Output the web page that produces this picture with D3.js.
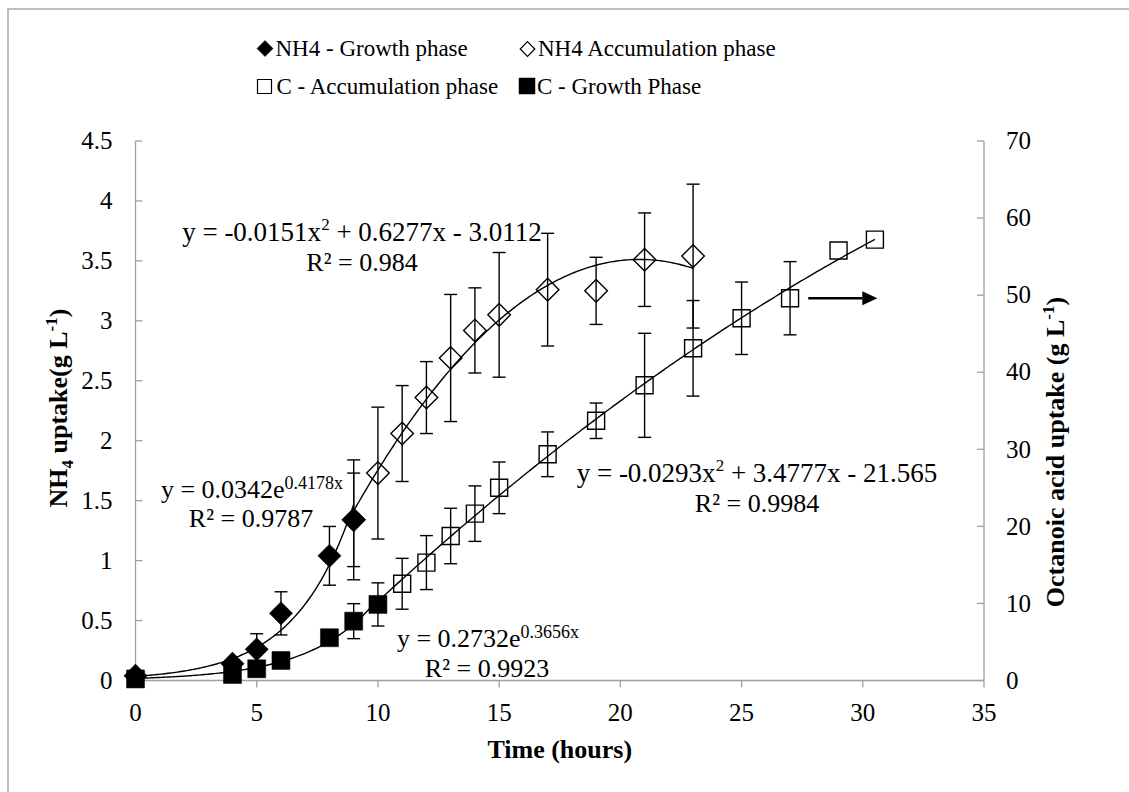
<!DOCTYPE html>
<html><head><meta charset="utf-8">
<script src="https://cdn.jsdelivr.net/npm/d3@7"></script>
<style>
html,body{margin:0;padding:0;background:#fff;}
text{font-family:"Liberation Serif","Times New Roman",serif;fill:#000;}
</style></head>
<body>
<svg id="chart" width="1129" height="792" font-family="Liberation Serif, Times New Roman, serif"></svg>
<script>
// ---------- DATA ----------
const xTicks = [0,5,10,15,20,25,30,35];
const leftTicks = [0,0.5,1,1.5,2,2.5,3,3.5,4,4.5];
const rightTicks = [0,10,20,30,40,50,60,70];

// NH4 - Growth phase (left axis)
const nh4GrowthT   = [0,4,5,6,8,9];
const nh4GrowthV   = [0.04,0.14,0.26,0.56,1.04,1.34];
const nh4GrowthErr = [0,0,0.13,0.18,0.245,0.5];

// NH4 Accumulation phase (left axis)
const nh4AccT   = [9,10,11,12,13,14,15,17,19,21,23];
const nh4AccV   = [1.34,1.73,2.06,2.36,2.69,2.92,3.05,3.26,3.25,3.51,3.54];
const nh4AccErr = [0.39,0.55,0.40,0.30,0.53,0.355,0.52,0.47,0.28,0.39,0.60];

// C - Accumulation phase (right axis)
const cAccT   = [11,12,13,14,15,17,19,21,23,25,27,29,30.5];
const cAccV   = [12.55,15.3,18.75,21.65,25.0,29.35,33.7,38.3,43.1,47.0,49.6,55.8,57.2];
const cAccErr = [3.3,3.5,3.6,3.6,3.35,2.9,2.3,6.75,6.2,4.7,4.75,0,0];

// C - Growth Phase (right axis)
const cGrowthT   = [0,4,5,6,8,9,10];
const cGrowthV   = [0.2,0.78,1.52,2.6,5.55,7.7,9.87];
const cGrowthErr = [0,0,0,0,0,2.27,2.8];

// Trendlines (from printed equations)
const nh4GrowthFit = {a:0.0342, b:0.4178, range:[0,9]};          // exp
const nh4AccFit    = {c:[-0.0151,0.6277,-3.0112], range:[9,23]};   // poly2
const cGrowthFit   = {a:0.2732, b:0.3656, range:[0,10]};           // exp
const cAccFit      = {c:[-0.0293,3.4777,-21.565], range:[10,30.5]};// poly2

// Arrow pointing to right axis (time range, right-axis value)
const arrowT = [27.75, 30.6];
const arrowV = 49.6;

const legendLabels = ["NH4 - Growth phase","NH4 Accumulation phase","C - Accumulation phase","C - Growth Phase"];

// ---------- LAYOUT ----------
const svg = d3.select("#chart");
const L = 135.5, R = 984, T = 141, B = 680.5;
const x  = d3.scaleLinear().domain([0,35]).range([L,R]);
const yL = d3.scaleLinear().domain([0,4.5]).range([B,T]);
const yR = d3.scaleLinear().domain([0,70]).range([B,T]);
const axisCol = "#a0a0a0";

// outer border (top/left visible, rest cropped)
svg.append("rect").attr("x",8).attr("y",9).attr("width",1200).attr("height",900)
  .attr("fill","none").attr("stroke","#a8a8a8").attr("stroke-width",1.5);

// axes
const g = svg.append("g");
g.append("line").attr("x1",L).attr("x2",L).attr("y1",T).attr("y2",B).attr("stroke",axisCol).attr("stroke-width",1.3);
g.append("line").attr("x1",R).attr("x2",R).attr("y1",T).attr("y2",B).attr("stroke",axisCol).attr("stroke-width",1.3);
g.append("line").attr("x1",L).attr("x2",R).attr("y1",B).attr("y2",B).attr("stroke",axisCol).attr("stroke-width",1.3);

// x ticks (outside)
xTicks.forEach(t=>{
  g.append("line").attr("x1",x(t)).attr("x2",x(t)).attr("y1",B).attr("y2",B+7).attr("stroke",axisCol).attr("stroke-width",1.3);
  g.append("text").attr("x",x(t)).attr("y",B+40).attr("text-anchor","middle").attr("font-size",25).text(t);
});
// left ticks (inside)
leftTicks.forEach(v=>{
  g.append("line").attr("x1",L).attr("x2",L+7).attr("y1",yL(v)).attr("y2",yL(v)).attr("stroke",axisCol).attr("stroke-width",1.3);
  g.append("text").attr("x",L-23).attr("y",yL(v)).attr("dy","0.33em").attr("text-anchor","end").attr("font-size",25).text(v);
});
// right ticks (inside)
rightTicks.forEach(v=>{
  g.append("line").attr("x1",R-7).attr("x2",R).attr("y1",yR(v)).attr("y2",yR(v)).attr("stroke",axisCol).attr("stroke-width",1.3);
  g.append("text").attr("x",R+22).attr("y",yR(v)).attr("dy","0.33em").attr("text-anchor","start").attr("font-size",25).text(v);
});

// axis titles
g.append("text").attr("x",(L+R)/2).attr("y",758).attr("text-anchor","middle")
  .attr("font-size",26).attr("font-weight","bold").text("Time (hours)");

const lt = g.append("text").attr("transform",`translate(67,408) rotate(-90)`)
  .attr("text-anchor","middle").attr("font-size",26).attr("font-weight","bold");
lt.append("tspan").text("NH");
lt.append("tspan").attr("font-size",17).attr("dy",6).text("4");
lt.append("tspan").attr("dy",-6).text(" uptake(g L");
lt.append("tspan").attr("font-size",17).attr("dy",-10).text("-1");
lt.append("tspan").attr("dy",10).text(")");

const rt = g.append("text").attr("transform",`translate(1064,452) rotate(-90)`)
  .attr("text-anchor","middle").attr("font-size",26).attr("font-weight","bold");
rt.append("tspan").text("Octanoic acid uptake (g L");
rt.append("tspan").attr("font-size",17).attr("dy",-10).text("-1");
rt.append("tspan").attr("dy",10).text(")");

// ---------- TRENDLINES ----------
function sampleRange(r, n){ return d3.range(n+1).map(i=>r[0]+(r[1]-r[0])*i/n); }
const line = d3.line().curve(d3.curveLinear);
function drawExp(f, ys){
  const pts = sampleRange(f.range,120).map(t=>[x(t), ys(f.a*Math.exp(f.b*t))]);
  svg.append("path").attr("d",line(pts)).attr("fill","none").attr("stroke","#000").attr("stroke-width",1.4);
}
function drawPoly(f, ys){
  const pts = sampleRange(f.range,120).map(t=>[x(t), ys(f.c[0]*t*t+f.c[1]*t+f.c[2])]);
  svg.append("path").attr("d",line(pts)).attr("fill","none").attr("stroke","#000").attr("stroke-width",1.4);
}
drawExp(nh4GrowthFit, yL);
drawPoly(nh4AccFit, yL);
drawExp(cGrowthFit, yR);
drawPoly(cAccFit, yR);

// ---------- ERROR BARS ----------
function errBars(ts, vs, es, ys){
  const eg = svg.append("g").attr("stroke","#000").attr("stroke-width",1.4);
  ts.forEach((t,i)=>{
    if(!es[i]) return;
    const cx = x(t), y1 = ys(vs[i]-es[i]), y2 = ys(vs[i]+es[i]);
    eg.append("line").attr("x1",cx).attr("x2",cx).attr("y1",y1).attr("y2",y2);
    eg.append("line").attr("x1",cx-6.5).attr("x2",cx+6.5).attr("y1",y1).attr("y2",y1);
    eg.append("line").attr("x1",cx-6.5).attr("x2",cx+6.5).attr("y1",y2).attr("y2",y2);
  });
}
errBars(nh4AccT, nh4AccV, nh4AccErr, yL);
errBars(cAccT, cAccV, cAccErr, yR);
errBars(nh4GrowthT, nh4GrowthV, nh4GrowthErr, yL);
errBars(cGrowthT, cGrowthV, cGrowthErr, yR);

// ---------- MARKERS ----------
const diamond = r => `M0,${-r}L${r},0L0,${r}L${-r},0Z`;
const square = s => `M${-s/2},${-s/2}h${s}v${s}h${-s}Z`;
function markers(ts, vs, ys, d, filled){
  svg.append("g").selectAll("path").data(ts).join("path")
    .attr("transform",(t,i)=>`translate(${x(t)},${ys(vs[i])})`)
    .attr("d",d)
    .attr("fill",filled?"#000":"none")
    .attr("stroke","#000").attr("stroke-width",filled?0.5:1.4);
}
markers(nh4AccT, nh4AccV, yL, diamond(11.3), false);
markers(cAccT, cAccV, yR, square(17), false);
markers(nh4GrowthT, nh4GrowthV, yL, diamond(11.6), true);
markers(cGrowthT, cGrowthV, yR, square(18), true);

// ---------- ARROW ----------
const ay = yR(arrowV);
svg.append("line").attr("x1",x(arrowT[0])).attr("x2",x(arrowT[1])-15).attr("y1",ay).attr("y2",ay)
  .attr("stroke","#000").attr("stroke-width",2.6);
svg.append("path").attr("d",`M${x(arrowT[1])},${ay}L${x(arrowT[1])-15},${ay-7}L${x(arrowT[1])-15},${ay+7}Z`).attr("fill","#000");

// ---------- EQUATIONS ----------
function eqPoly(cx, by, a, b, c){
  const t = svg.append("text").attr("x",cx).attr("y",by).attr("text-anchor","middle").attr("font-size",27);
  t.append("tspan").text(`y = ${a}x`);
  t.append("tspan").attr("font-size",17).attr("dy",-11).text("2");
  t.append("tspan").attr("dy",11).text(` + ${b}x - ${c}`);
}
function eqExp(cx, by, a, b){
  const t = svg.append("text").attr("x",cx).attr("y",by).attr("text-anchor","middle").attr("font-size",26);
  t.append("tspan").text(`y = ${a}e`);
  t.append("tspan").attr("font-size",18).attr("dy",-9).text(`${b}x`);
}
function r2(cx, by, v){
  svg.append("text").attr("x",cx).attr("y",by).attr("text-anchor","middle").attr("font-size",26).text(`R² = ${v}`);
}
eqPoly(362, 241, "-0.0151", "0.6277", "3.0112"); r2(362, 271, "0.984");
eqExp(252, 498, "0.0342", "0.4178");              r2(251, 527, "0.9787");
eqExp(488, 647, "0.2732", "0.3656");              r2(487, 677, "0.9923");
eqPoly(757, 482, "-0.0293", "3.4777", "21.565");  r2(757, 512, "0.9984");

// ---------- LEGEND ----------
const lg = svg.append("g");
const legendPos = [[265,48.5,275.5,56],[527.5,49,538,56],[264.5,86.5,276.5,94],[527,86,537,94]];
const legendShapes = [[diamond(8),true],[diamond(7.3),false],[square(14),false],[square(16),true]];
legendLabels.forEach((lab,i)=>{
  const p = legendPos[i];
  lg.append("path").attr("transform",`translate(${p[0]},${p[1]})`).attr("d",legendShapes[i][0])
    .attr("fill",legendShapes[i][1]?"#000":"none").attr("stroke","#000").attr("stroke-width",legendShapes[i][1]?0.5:1.2);
  lg.append("text").attr("x",p[2]).attr("y",p[3]).attr("font-size",23).text(lab);
});
</script>
</body></html>
